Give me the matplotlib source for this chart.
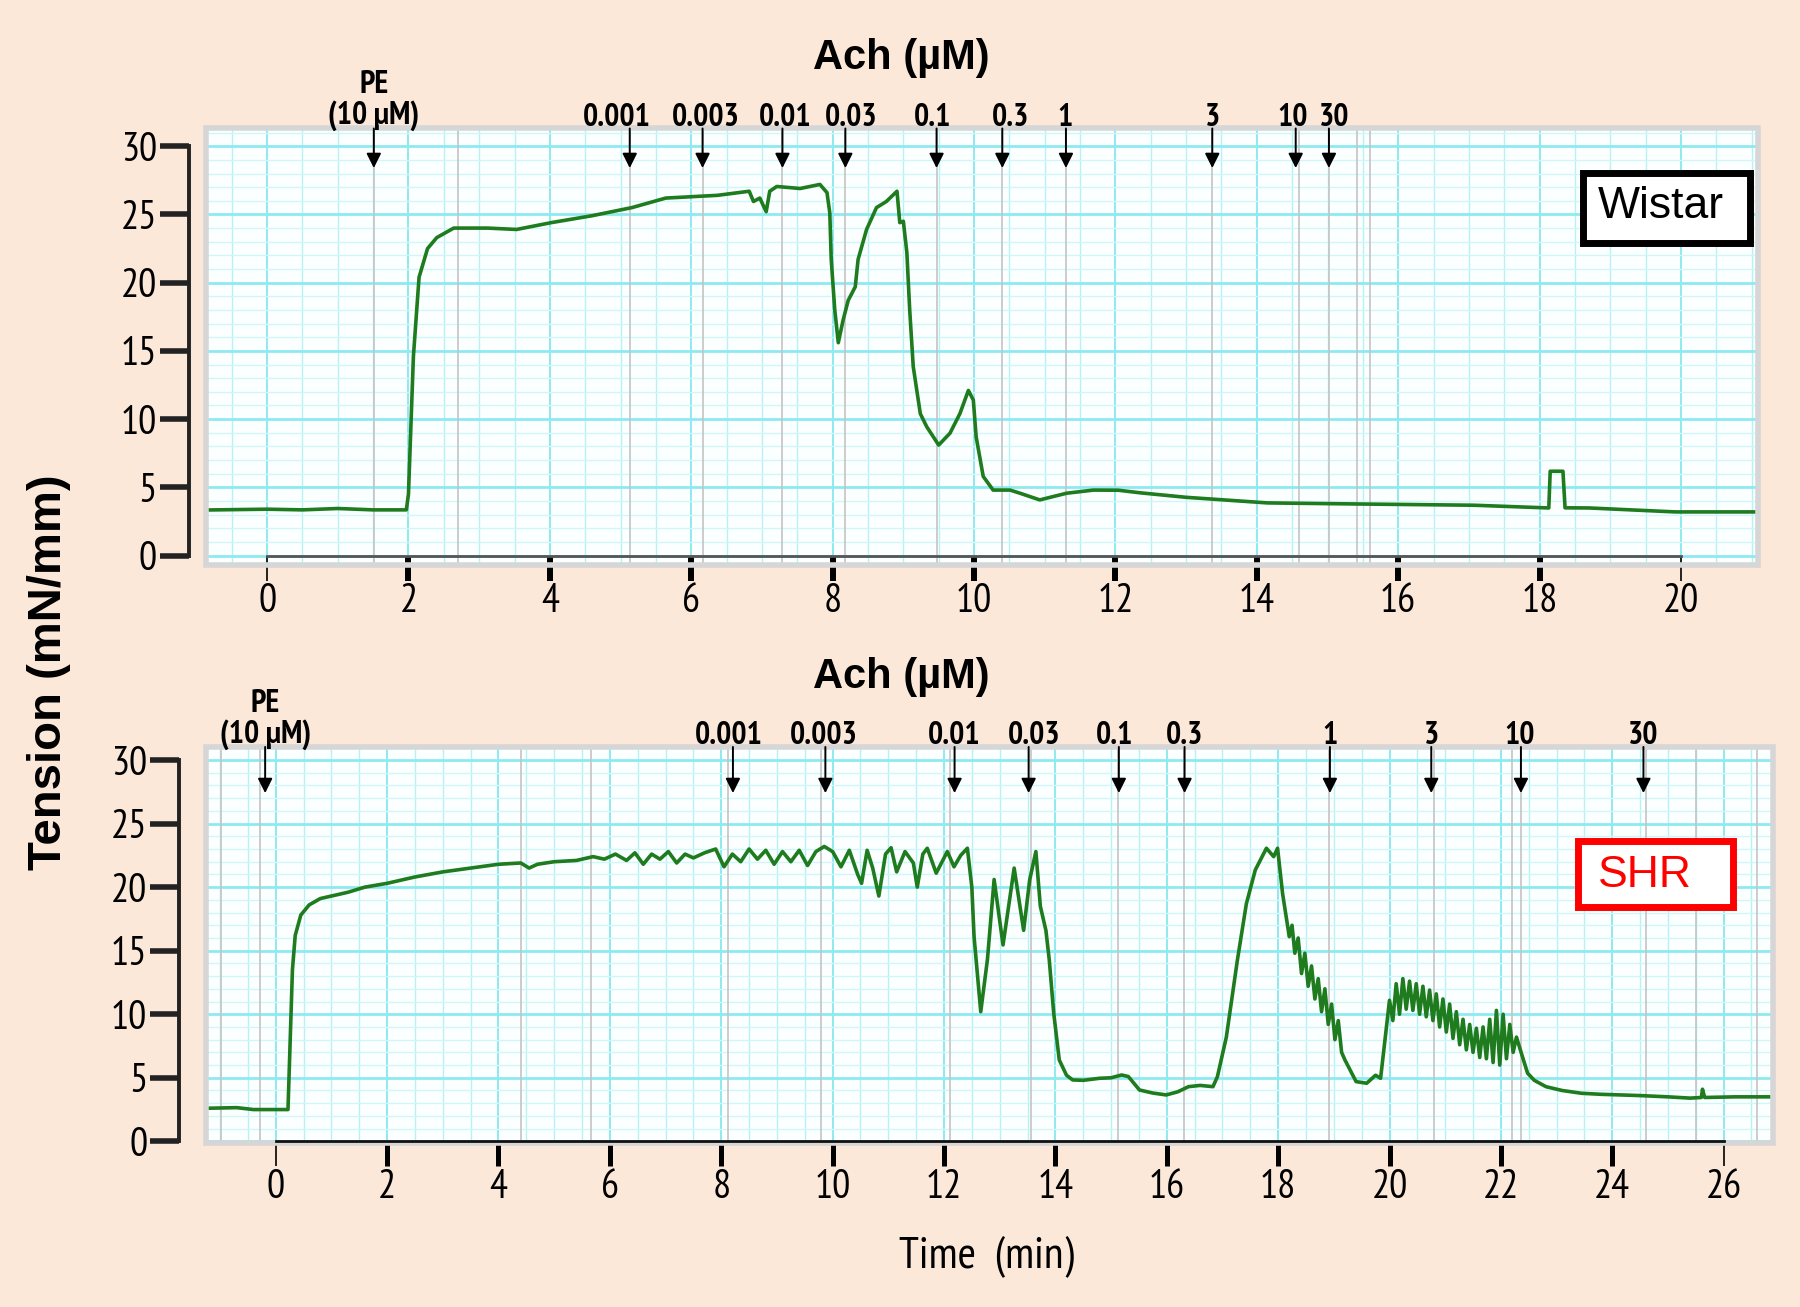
import matplotlib
matplotlib.use("Agg")
import matplotlib.pyplot as plt
from matplotlib import font_manager
from matplotlib.patches import Rectangle
import numpy as np

installed = {f.name for f in font_manager.fontManager.ttflist}
narrow = "Liberation Sans"
for cand in ["Arial Narrow", "Liberation Sans Narrow", "PT Sans Narrow", "Archivo Narrow",
             "Roboto Condensed", "Open Sans Condensed"]:
    if cand in installed:
        narrow = cand
        break
narrow_ok = narrow != "Liberation Sans"
plt.rcParams["font.family"] = [narrow, "DejaVu Sans"]

tick_fs = 29 if narrow_ok else 23
dose_fs = 23 if narrow_ok else 19
time_fs = 32 if narrow_ok else 24

# Wistar trace (min, mN/mm)
wistar_time = [-0.87, 0.0, 0.5, 1.0, 1.5, 1.97, 2.0, 2.07, 2.15, 2.27, 2.40, 2.64, 3.12, 3.53,
               4.02, 4.59, 5.16, 5.64, 6.37, 6.82, 6.88, 6.97, 7.06, 7.11, 7.21, 7.54, 7.82,
               7.92, 7.96, 7.98, 8.03, 8.08, 8.15, 8.22, 8.32, 8.36, 8.48, 8.62, 8.76, 8.91,
               8.95, 9.0, 9.05, 9.09, 9.14, 9.24, 9.33, 9.50, 9.66, 9.80, 9.92, 9.99, 10.03,
               10.13, 10.27, 10.51, 10.65, 10.93, 11.31, 11.69, 12.04, 12.35, 13.0, 14.15,
               15.45, 17.07, 18.13, 18.15, 18.33, 18.36, 18.70, 19.92, 21.09]
wistar_tension = [3.34, 3.4, 3.35, 3.45, 3.35, 3.35, 4.5, 14.6, 20.4, 22.5, 23.3, 24.0, 24.0, 23.9,
                  24.4, 24.9, 25.5, 26.2, 26.4, 26.7, 25.95, 26.2, 25.2, 26.7, 27.05, 26.9, 27.2,
                  26.6, 25.1, 21.7, 18.0, 15.6, 17.3, 18.7, 19.7, 21.7, 23.9, 25.5, 25.95, 26.7,
                  24.4, 24.5, 22.2, 18.0, 13.85, 10.4, 9.45, 8.1, 8.97, 10.4, 12.1, 11.4, 8.7,
                  5.8, 4.8, 4.8, 4.57, 4.08, 4.57, 4.8, 4.79, 4.6, 4.27, 3.86,
                  3.78, 3.69, 3.49, 6.18, 6.18, 3.5, 3.49, 3.2, 3.2]

# SHR trace
shr_time = [-1.26, -0.70, -0.40, 0.0, 0.22, 0.26, 0.30, 0.35, 0.45, 0.6, 0.8, 1.0, 1.3, 1.6, 2.0,
            2.5, 3.0, 3.5, 4.0, 4.4, 4.55, 4.7, 5.0, 5.4, 5.7, 5.9, 6.1, 6.3, 6.45, 6.6, 6.75,
            6.9, 7.05, 7.2, 7.35, 7.5, 7.7, 7.9, 8.05, 8.2, 8.35, 8.5, 8.65, 8.8, 8.95, 9.1,
            9.25, 9.4, 9.55, 9.7, 9.85, 10.0, 10.15, 10.3, 10.45, 10.52, 10.62, 10.72, 10.83,
            10.95, 11.05, 11.15, 11.3, 11.45, 11.52, 11.62, 11.7, 11.86, 12.06, 12.18, 12.3,
            12.42, 12.50, 12.54, 12.66, 12.78, 12.90, 13.06, 13.26, 13.43, 13.54, 13.65, 13.73,
            13.83, 13.89, 13.97, 14.07, 14.2, 14.31, 14.5, 14.79, 15.0, 15.19, 15.31, 15.51,
            15.75, 15.99, 16.2, 16.39, 16.6, 16.83, 16.91, 17.07, 17.27, 17.43, 17.59, 17.79,
            17.92, 17.99, 18.08, 18.20, 18.25, 18.30, 18.36, 18.42, 18.48, 18.54, 18.60, 18.66,
            18.72, 18.78, 18.84, 18.90, 18.96, 19.02, 19.08, 19.14, 19.2, 19.40, 19.59, 19.75,
            19.84, 19.92, 20.00, 20.06, 20.12, 20.18, 20.24, 20.30, 20.36, 20.42, 20.48, 20.54,
            20.60, 20.66, 20.72, 20.78, 20.84, 20.90, 20.96, 21.02, 21.08, 21.14, 21.20, 21.26,
            21.32, 21.38, 21.44, 21.50, 21.56, 21.62, 21.68, 21.74, 21.80, 21.86, 21.92, 21.98,
            22.04, 22.10, 22.16, 22.22, 22.28, 22.37, 22.48, 22.6, 22.81, 23.1, 23.45, 23.8,
            24.16, 24.5, 25.0, 25.4, 25.6, 25.62, 25.66, 26.2, 26.88]
shr_tension = [2.6, 2.65, 2.5, 2.5, 2.5, 8.0, 13.5, 16.2, 17.8, 18.6, 19.1, 19.3, 19.6, 20.0, 20.3,
               20.8, 21.2, 21.5, 21.8, 21.9, 21.5, 21.8, 22.0, 22.1, 22.4, 22.2, 22.6, 22.1, 22.7,
               21.8, 22.6, 22.2, 22.8, 21.9, 22.6, 22.3, 22.7, 23.0, 21.6, 22.6, 22.0, 23.0, 22.2,
               22.9, 21.8, 22.8, 22.0, 22.9, 21.7, 22.8, 23.2, 22.8, 21.6, 22.9, 21.0, 20.3, 22.9,
               21.5, 19.3, 22.6, 23.1, 21.2, 22.8, 21.9, 20.0, 22.6, 23.06, 21.1, 22.8, 21.6,
               22.5, 23.06, 20.0, 16.1, 10.2, 14.3, 20.6, 15.45, 21.5, 16.6, 20.6, 22.8, 18.5,
               16.6, 14.3, 10.1, 6.4, 5.2, 4.83, 4.8, 4.96, 5.0, 5.22, 5.1, 4.04,
               3.8, 3.65, 3.9, 4.3, 4.4, 4.3, 5.09, 8.2, 14.3, 18.7, 21.35, 23.06,
               22.4, 23.06, 19.5, 16.1, 17.0, 14.8, 16.0, 13.2, 14.8, 12.2, 13.8, 11.2,
               12.8, 10.2, 12.0, 9.2, 10.8, 8.0, 9.5, 7.0, 6.4, 4.7, 4.57, 5.2,
               4.96, 8.0, 11.1, 9.5, 12.4, 10.0, 12.8, 10.4, 12.6, 10.3, 12.4, 10.0,
               12.2, 9.8, 11.9, 9.5, 11.6, 9.0, 11.2, 8.6, 10.8, 8.1, 10.2, 7.6,
               9.6, 7.2, 9.2, 7.0, 8.9, 6.6, 9.0, 6.5, 9.6, 6.2, 10.3, 6.0,
               10.0, 6.5, 9.2, 7.0, 8.2, 6.9, 5.36, 4.8, 4.3, 4.0, 3.78, 3.7,
               3.65, 3.6, 3.5, 3.4, 3.45, 4.1, 3.45, 3.5, 3.5]

# drug additions
wistar_pe_time = 1.51
wistar_doses = ["0.001", "0.003", "0.01", "0.03", "0.1", "0.3", "1", "3", "10", "30"]
wistar_dose_times = [5.13, 6.16, 7.29, 8.18, 9.47, 10.40, 11.30, 13.37, 14.55, 15.02]
wistar_marks = [1.51, 2.70, 5.13, 6.16, 7.29, 8.18, 9.47, 10.40, 11.30, 13.37, 14.60, 15.02, 15.42, 15.60]

shr_pe_time = -0.19
shr_doses = ["0.001", "0.003", "0.01", "0.03", "0.1", "0.3", "1", "3", "10", "30"]
shr_dose_times = [8.21, 9.87, 12.19, 13.52, 15.14, 16.32, 18.93, 20.75, 22.36, 24.56]
shr_marks = [-0.98, -0.29, 4.40, 5.67, 8.13, 9.80, 12.10, 13.57, 15.13, 16.31, 18.92, 20.80,
             22.20, 22.37, 24.60, 25.50, 26.60]

y_ticks = [0, 5, 10, 15, 20, 25, 30]

bg = "#fbe8d9"
green = "#1e7b1e"


def draw_panel(ax, t, y, xlim, ylim, xmax, marks, pe_time, doses, dose_times, tip_y,
               spine_out, axis_color, tick_w, label_nudge):
    ax.set_facecolor("#fbffff")
    ax.set_xlim(*xlim)
    ax.set_ylim(*ylim)

    # chart-recorder grid
    for gx in np.arange(-1.0, xlim[1] + 0.5, 0.5):
        major = abs(gx % 2) < 1e-6
        ax.axvline(gx, color="#8eeaf0" if major else "#b8f1f4", lw=1.4 if major else 1.0, zorder=0)
    for gy in range(0, 32):
        major = gy % 5 == 0
        ax.axhline(gy, color="#8eeaf0" if major else "#d2f6f8", lw=2.0 if major else 1.0, zorder=0)
    for m in marks:
        ax.axvline(m, color="#c4c4c4", lw=1.2, zorder=1)

    ax.plot(t, y, color=green, lw=2.6, zorder=3)

    # frame round the plot area
    ax.add_patch(Rectangle((0, 0), 1, 1, transform=ax.transAxes, fill=False,
                           edgecolor="#d6d6d6", lw=4, clip_on=False, zorder=4))

    ax.spines["top"].set_visible(False)
    ax.spines["right"].set_visible(False)
    ax.spines["left"].set_position(("outward", spine_out))
    ax.spines["left"].set_bounds(0, 30)
    ax.spines["left"].set_linewidth(2.8)
    ax.spines["left"].set_color("#222222")
    ax.spines["bottom"].set_position(("data", 0))
    ax.spines["bottom"].set_bounds(0, xmax)
    ax.spines["bottom"].set_linewidth(2.0)
    ax.spines["bottom"].set_color(axis_color)
    ax.spines["bottom"].set_zorder(5)

    ax.set_yticks(y_ticks)
    ax.tick_params(axis="y", direction="out", length=21, width=4, color="#222222",
                   labelsize=tick_fs, pad=2)
    ax.set_xticks(range(0, xmax + 1, 2))
    ax.tick_params(axis="x", direction="out", length=18, width=tick_w, color="black",
                   labelsize=tick_fs, pad=2)
    xt = ax.xaxis.get_major_ticks()
    for tk in (xt[0], xt[-1]):
        tk.tick1line.set_markeredgewidth(1.2)
        tk.tick1line.set_color("#555555")

    # PE and Ach additions
    ax.annotate("PE\n(10 µM)", xy=(pe_time, 1), xycoords=("data", "axes fraction"),
                xytext=(0, -2), textcoords="offset points", ha="center", va="bottom",
                fontsize=dose_fs, fontweight="bold", linespacing=1.0, zorder=8)
    for lab, dt, dx in zip(doses, dose_times, label_nudge):
        ax.annotate(lab, xy=(dt, 1), xycoords=("data", "axes fraction"),
                    xytext=(dx, -3), textcoords="offset points", ha="center", va="bottom",
                    fontsize=dose_fs, fontweight="bold", zorder=8)
    for dt in [pe_time] + dose_times:
        ax.annotate("", xy=(dt, tip_y), xytext=(dt, ylim[1]),
                    arrowprops=dict(arrowstyle="-|>", color="black", lw=1.4,
                                    mutation_scale=22, shrinkA=0, shrinkB=0),
                    annotation_clip=False, zorder=6)


fig = plt.figure(figsize=(18, 13.07), dpi=100, facecolor=bg)
ax1 = fig.add_axes([0.1142, 0.5674, 0.8625, 0.3343])
ax2 = fig.add_axes([0.1142, 0.1251, 0.8706, 0.3034])

draw_panel(ax1, wistar_time, wistar_tension, (-0.87, 21.09), (-0.72, 31.3), 20, wistar_marks,
           wistar_pe_time, wistar_doses, wistar_dose_times, 28.4, 12, "#555555", 4.3,
           [-9, 2, 2, 4, -3, 6, -1, 0, -2, 4])
draw_panel(ax2, shr_time, shr_tension, (-1.26, 26.88), (-0.17, 31.03), 26, shr_marks,
           shr_pe_time, shr_doses, shr_dose_times, 27.4, 19, "#111111", 3.6,
           [-3, -1, 0, 4, -3, 0, 0, 0, -1, 0])

# strain boxes
ax1.add_patch(Rectangle((0.887, 0.739), 0.1075, 0.160, transform=ax1.transAxes,
                        facecolor="white", edgecolor="black", lw=5, zorder=7))
ax1.text(0.9373, 0.821, "Wistar", transform=ax1.transAxes, ha="center", va="center",
         fontsize=32, family="Liberation Sans", zorder=8)
ax2.add_patch(Rectangle((0.8761, 0.596), 0.0983, 0.1657, transform=ax2.transAxes,
                        facecolor="white", edgecolor="#ff0000", lw=5, zorder=7))
ax2.text(0.8886, 0.6747, "SHR", transform=ax2.transAxes, ha="left", va="center",
         fontsize=32, family="Liberation Sans", color="#ff0000", zorder=8)

fig.text(0.5006, 0.956, "Ach (µM)", ha="center", va="center", fontsize=30,
         fontweight="bold", family="Liberation Sans")
fig.text(0.5006, 0.482, "Ach (µM)", ha="center", va="center", fontsize=30,
         fontweight="bold", family="Liberation Sans")
fig.text(0.0275, 0.486, "Tension (mN/mm)", rotation=90, ha="center", va="center",
         fontsize=34, fontweight="bold", family="Liberation Sans")
fig.text(0.548, 0.0383, "Time  (min)", ha="center", va="center", fontsize=time_fs)

fig.savefig("out.png", dpi=100, facecolor=bg)
